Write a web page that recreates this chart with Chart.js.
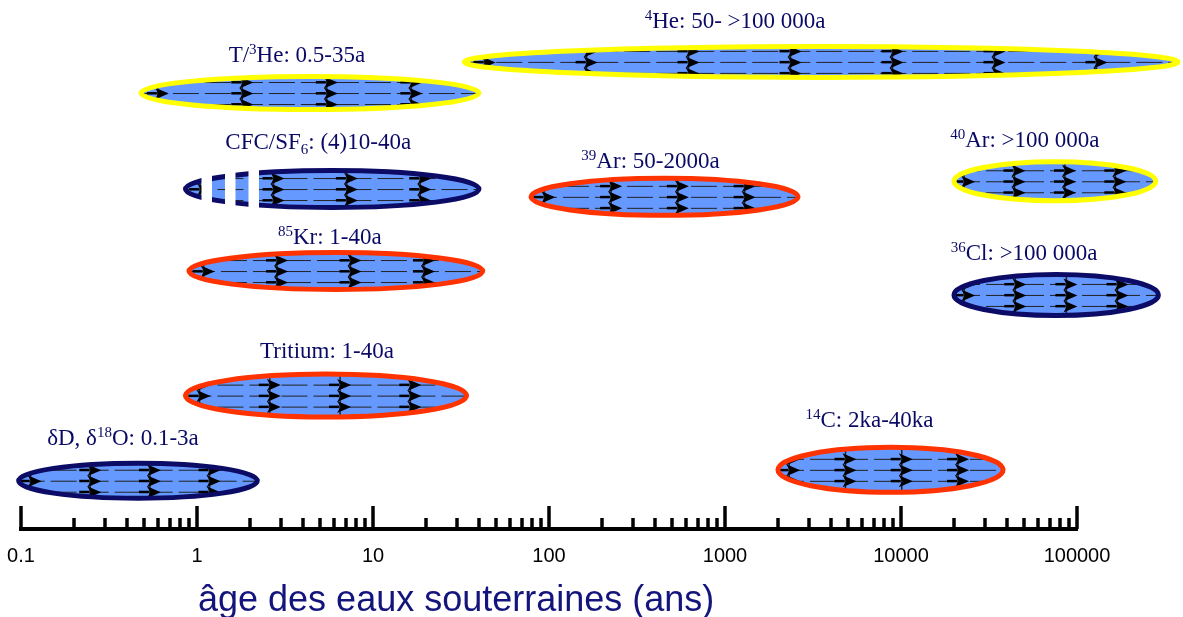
<!DOCTYPE html>
<html>
<head>
<meta charset="utf-8">
<script src="https://cdn.jsdelivr.net/npm/chart.js@4.4.1/dist/chart.umd.min.js"></script>
<style>
  html, body { margin: 0; padding: 0; background: #fff; }
  #wrap { width: 1183px; height: 617px; }
</style>
</head>
<body>
<div id="wrap"><canvas id="c" width="1183" height="617"></canvas></div>
<script>
// tracer labels: ^{..} = superscript, _{..} = subscript
const tracers = [
  '^{4}He: 50- >100 000a',
  'T/^{3}He: 0.5-35a',
  'CFC/SF_{6}: (4)10-40a',
  '^{39}Ar: 50-2000a',
  '^{40}Ar: >100 000a',
  '^{85}Kr: 1-40a',
  '^{36}Cl: >100 000a',
  'Tritium: 1-40a',
  'δD, δ^{18}O: 0.1-3a',
  '^{14}C: 2ka-40ka'
];
// age span covered by each tracer (years)
const ageFrom = [33, 0.48, 0.86, 79, 20000, 0.9, 20000, 0.86, 0.097, 2000];
const ageTo   = [375000, 40, 40, 2600, 280000, 42, 290000, 34, 2.2, 38000];
// uncertain (broken) start of the range, CFC only
const fuzzyTo = [null, null, 2.25, null, null, null, null, null, null, null];
// lane of each tracer on the hidden vertical axis
const lane    = [9.0, 8.4, 6.55, 6.4, 6.7, 4.97, 4.51, 2.57, 0.93, 1.14];
// outline family
const family  = ['yellow', 'yellow', 'navy', 'red', 'yellow', 'red', 'navy', 'red', 'navy', 'red'];

const decades = [0.1, 1, 10, 100, 1000, 10000, 100000];
const decadeLabels = ['0.1', '1', '10', '100', '1000', '10000', '100000'];
const axisTitle = 'âge des eaux souterraines (ans)';

// --- look ---
const SERIF = '"Liberation Serif", "Times New Roman", serif';
const SANS = '"Liberation Sans", Arial, sans-serif';
const FILL = '#6699ff';
const INK = '#0a0a66';
const outline = { yellow: '#ffff00', red: '#ff3300', navy: '#0c0c66' };
const halfHeight = [18, 19, 21, 21, 22, 21, 23, 24, 20, 25];
const labelNudge = [[-86, 34], [-13, 31], [-14, 40], [-14, 29], [-30, 34],
                    [-6, 27], [-32, 35], [1, 38], [-15, 36], [-21, 43]];

const minorTicks = [];
decades.slice(0, -1).forEach(d => {
  for (let k = 2; k <= 9; k++) minorTicks.push(d * k);
});

function parseRich(s) {
  const parts = [];
  const re = /([\^_])\{([^}]*)\}/g;
  let last = 0, m;
  while ((m = re.exec(s))) {
    if (m.index > last) parts.push({ t: s.slice(last, m.index), k: '' });
    parts.push({ t: m[2], k: m[1] });
    last = re.lastIndex;
  }
  if (last < s.length) parts.push({ t: s.slice(last), k: '' });
  return parts;
}

function drawRich(ctx, s, cx, baseline) {
  const parts = parseRich(s);
  const fontFor = k => (k ? '15px ' : '23px ') + SERIF;
  let w = 0;
  parts.forEach(p => { ctx.font = fontFor(p.k); p.w = ctx.measureText(p.t).width; w += p.w; });
  let x = cx - w / 2;
  ctx.textAlign = 'left';
  ctx.textBaseline = 'alphabetic';
  ctx.fillStyle = INK;
  parts.forEach(p => {
    ctx.font = fontFor(p.k);
    const dy = p.k === '^' ? -8 : p.k === '_' ? 5 : 0;
    ctx.fillText(p.t, x, baseline + dy);
    x += p.w;
  });
}

// dashed flow lines with arrowheads, clipped to the ellipse by the caller
function drawArrows(ctx, x1, x2, cy, ry) {
  const w = x2 - x1;
  const cols = Math.max(4, Math.round(w / 100));
  const step = w / cols;
  const rows = [-11, 0, 11];
  ctx.strokeStyle = '#222';
  ctx.lineWidth = 1;
  ctx.setLineDash([26, 6]);
  rows.forEach(r => {
    ctx.beginPath();
    ctx.moveTo(x1, cy + r + 0.5);
    ctx.lineTo(x2, cy + r + 0.5);
    ctx.stroke();
  });
  ctx.setLineDash([]);
  ctx.fillStyle = '#000';
  for (let i = 0; i < cols; i++) {
    const ax = x1 + step * (i + 0.2);
    ctx.lineWidth = 1.5;
    ctx.beginPath();
    ctx.moveTo(ax, cy - ry);
    ctx.lineTo(ax, cy + ry);
    ctx.stroke();
    rows.forEach(r => {
      const y = cy + r;
      ctx.fillRect(ax - 11, y - 1, 10, 2.5);
      ctx.beginPath();
      ctx.moveTo(ax - 3, y - 5.5);
      ctx.lineTo(ax + 11, y + 0.5);
      ctx.lineTo(ax - 3, y + 6.5);
      ctx.lineTo(ax + 0.5, y + 0.5);
      ctx.closePath();
      ctx.fill();
    });
  }
}

const tracerPlugin = {
  id: 'tracers',
  afterDatasetsDraw(chart) {
    const { ctx, scales: { x, y } } = chart;
    const bw = 5;
    tracers.forEach((label, i) => {
      const x1 = x.getPixelForValue(ageFrom[i]);
      const x2 = x.getPixelForValue(ageTo[i]);
      const cx = (x1 + x2) / 2;
      const cy = y.getPixelForValue(lane[i]);
      const rx = (x2 - x1) / 2;
      const ry = halfHeight[i] - bw / 2;

      ctx.save();
      ctx.beginPath();
      ctx.ellipse(cx, cy, rx, ry, 0, 0, Math.PI * 2);
      ctx.fillStyle = FILL;
      ctx.fill();
      ctx.save();
      ctx.clip();
      drawArrows(ctx, x1, x2, cy, ry);
      ctx.restore();
      ctx.beginPath();
      ctx.ellipse(cx, cy, rx, ry, 0, 0, Math.PI * 2);
      ctx.lineWidth = bw;
      ctx.strokeStyle = outline[family[i]];
      ctx.stroke();

      // broken outline where the range is uncertain
      if (fuzzyTo[i] != null) {
        const gEnd = x.getPixelForValue(fuzzyTo[i]);
        ctx.fillStyle = '#fff';
        for (let k = 0; k < 3; k++) {
          const gx = gEnd - 10.5 - k * 23.5;
          ctx.fillRect(gx, cy - ry - bw, 10.5, 2 * (ry + bw));
        }
      }
      ctx.restore();

      ctx.save();
      drawRich(ctx, label, cx + labelNudge[i][0], cy - labelNudge[i][1]);
      ctx.restore();
    });
  },
  afterDraw(chart) {
    const { ctx, scales: { x } } = chart;
    const base = x.top;
    ctx.save();
    ctx.strokeStyle = '#000';
    ctx.lineWidth = 3.5;
    ctx.lineCap = 'butt';
    decades.forEach(v => {
      const px = Math.round(x.getPixelForValue(v));
      ctx.beginPath();
      ctx.moveTo(px, base);
      ctx.lineTo(px, base - 23);
      ctx.stroke();
    });
    minorTicks.forEach(v => {
      const px = Math.round(x.getPixelForValue(v));
      ctx.beginPath();
      ctx.moveTo(px, base);
      ctx.lineTo(px, base - 11);
      ctx.stroke();
    });
    ctx.font = '36px ' + SANS;
    ctx.fillStyle = '#14147d';
    ctx.textAlign = 'left';
    ctx.textBaseline = 'alphabetic';
    ctx.fillText(axisTitle, x.getPixelForValue(1) + 1, 611);
    ctx.restore();
  }
};

new Chart(document.getElementById('c'), {
  type: 'scatter',
  data: {
    datasets: [{
      data: tracers.map((t, i) => ({ x: Math.sqrt(ageFrom[i] * ageTo[i]), y: lane[i] })),
      pointRadius: 0
    }]
  },
  options: {
    responsive: false,
    animation: false,
    layout: { autoPadding: false, padding: { left: 21, right: 106, top: 10, bottom: 48 } },
    plugins: { legend: { display: false }, tooltip: { enabled: false } },
    scales: {
      x: {
        type: 'logarithmic',
        min: 0.1,
        max: 100000,
        afterBuildTicks: s => { s.ticks = decades.map(v => ({ value: v })); },
        afterFit: s => { s.paddingLeft = 0; s.paddingRight = 0; s.height = 40; },
        border: { display: true, color: '#000', width: 4 },
        grid: { display: false, drawTicks: false },
        ticks: {
          autoSkip: false,
          maxRotation: 0,
          padding: 15,
          color: '#000',
          font: { family: SANS, size: 20 },
          callback: (v, idx) => decadeLabels[idx]
        }
      },
      y: { display: false, min: 0, max: 10 }
    }
  },
  plugins: [tracerPlugin]
});
</script>
</body>
</html>
